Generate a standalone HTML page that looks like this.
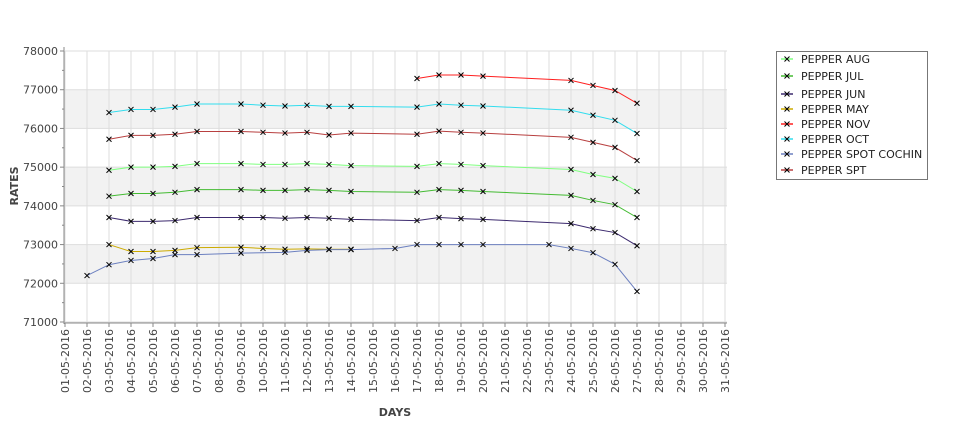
<!DOCTYPE html>
<html><head><meta charset="utf-8"><style>
body{margin:0;background:#fff;font-family:"Liberation Sans","DejaVu Sans",sans-serif}
svg text{font-family:"DejaVu Sans","Liberation Sans",sans-serif}
</style></head><body>
<svg id="chart" width="975" height="429" xmlns="http://www.w3.org/2000/svg"></svg>
<script>
const days = ["01","02","03","04","05","06","07","08","09","10","11","12","13","14","15","16","17","18","19","20","21","22","23","24","25","26","27","28","29","30","31"];
const yTicks = [71000,72000,73000,74000,75000,76000,77000,78000];
const seriesNames = ["PEPPER AUG","PEPPER JUL","PEPPER JUN","PEPPER MAY","PEPPER NOV","PEPPER OCT","PEPPER SPOT COCHIN","PEPPER SPT"];
const seriesColors = ["#80ff80","#44bb33","#3c2a6e","#ccaa00","#ff2020","#33ddee","#6c80c0","#b84040"];
const mainDays = [3,4,5,6,7,9,10,11,12,13,14,17,18,19,20,24,25,26,27];
const augVals = [74920,75000,75000,75020,75090,75090,75070,75070,75090,75070,75040,75020,75090,75070,75040,74940,74810,74710,74370];
const julVals = [74250,74320,74320,74350,74420,74420,74400,74400,74420,74400,74370,74350,74420,74400,74370,74270,74140,74030,73700];
const junVals = [73700,73600,73600,73620,73700,73700,73700,73680,73700,73680,73650,73620,73700,73670,73650,73540,73410,73310,72970];
const sptVals = [75720,75820,75820,75850,75920,75920,75900,75880,75900,75830,75880,75850,75930,75900,75880,75770,75640,75510,75170];
const octVals = [76410,76490,76490,76550,76630,76630,76600,76580,76600,76570,76570,76550,76630,76600,76580,76470,76340,76210,75870];
const mayDays = [3,4,5,6,7,9,10,11,12,13,14];
const mayVals = [73000,72820,72820,72850,72920,72930,72900,72880,72890,72880,72880];
const novDays = [17,18,19,20,24,25,26,27];
const novVals = [77290,77380,77380,77350,77240,77110,76980,76650];
const spotDays = [2,3,4,5,6,7,9,11,12,13,14,16,17,18,19,20,23,24,25,26,27];
const spotVals = [72200,72480,72590,72640,72740,72740,72780,72800,72850,72870,72870,72900,73000,73000,73000,73000,73000,72900,72790,72490,71790];

const svg=document.getElementById('chart');
const NS="http://www.w3.org/2000/svg";
const X0=65,X1=725,Y0=322,Y1=51,VMIN=71000,VMAX=78000;
function xs(d){return X0+(d-1)*(X1-X0)/30;}
function ys(v){return Y0-(v-VMIN)*(Y0-Y1)/(VMAX-VMIN);}
function el(t,a,p){const e=document.createElementNS(NS,t);for(const k in a)e.setAttribute(k,a[k]);(p||svg).appendChild(e);return e;}

for(let i=0;i<yTicks.length-1;i++){
  if(i%2===1){
    const r=el('rect',{x:X0,y:ys(yTicks[i+1]),width:X1-X0+2,height:ys(yTicks[i])-ys(yTicks[i+1]),fill:'#f2f2f2'});
    
    
  }
}
days.forEach((d,i)=>{
  const g=el('line',{x1:xs(i+1),x2:xs(i+1),y1:Y1,y2:Y0,stroke:'#dddddd','stroke-width':1});
  
  
});
yTicks.forEach(v=>{
  const g=el('line',{x1:X0,x2:X1+2,y1:ys(v),y2:ys(v),stroke:'#dddddd','stroke-width':1});
  
  
});
const ax=el('line',{x1:X0-1,x2:X0-1,y1:Y1-4,y2:Y0+2,stroke:'#888','stroke-width':1});


const axx=el('line',{x1:X0-1,x2:X1+2,y1:Y0+1,y2:Y0+1,stroke:'#888','stroke-width':1});


yTicks.forEach((v,i)=>{
  el('line',{x1:X0-5,x2:X0-1,y1:ys(v),y2:ys(v),stroke:'#888'});
  if(i<yTicks.length-1){const m=ys(v+500);el('line',{x1:X0-3,x2:X0-1,y1:m,y2:m,stroke:'#888'});}
  const t=el('text',{x:X0-7,y:ys(v)+4,'font-size':11,'text-anchor':'end',fill:'#444'});
  t.textContent=v;
  
  
});
days.forEach((d,i)=>{
  const x=xs(i+1);
  el('line',{x1:x,x2:x,y1:Y0+1,y2:Y0+5,stroke:'#888'});
  const t=el('text',{x:0,y:0,'font-size':11,'text-anchor':'end',fill:'#444',transform:`translate(${x+4},${Y0+7}) rotate(-90)`});
  t.textContent=d+"-05-2016";
  
  
});
const xt=el('text',{x:395,y:416,'font-size':11,'font-weight':'bold','text-anchor':'middle',fill:'#444'});
xt.textContent='DAYS';


const yt=el('text',{x:0,y:0,'font-size':11,'font-weight':'bold','text-anchor':'middle',fill:'#444',transform:'translate(18,186) rotate(-90)'});
yt.textContent='RATES';



const seriesData=[[mainDays,augVals],[mainDays,julVals],[mainDays,junVals],[mayDays,mayVals],[novDays,novVals],[mainDays,octVals],[spotDays,spotVals],[mainDays,sptVals]];
function marker(x,y,p){
  el('path',{d:`M${x-2.5},${y-2.5}L${x+2.5},${y+2.5}M${x-2.5},${y+2.5}L${x+2.5},${y-2.5}`,stroke:'#000','stroke-width':1},p);
}
seriesData.forEach(([ds,vs],si)=>{
  const g=el('g',{});
  
  
  const pts=ds.map((d,i)=>xs(d)+','+ys(vs[i])).join(' ');
  const pl=el('polyline',{points:pts,fill:'none',stroke:seriesColors[si],'stroke-width':1},g);
  
  
  ds.forEach((d,i)=>marker(xs(d),ys(vs[i]),g));
});
const lg=el('g',{});


el('rect',{x:776.5,y:51.5,width:151,height:128,fill:'#fff',stroke:'#777'},lg);
const ly=[59,76,94,109,124,139,154,170];
seriesNames.forEach((n,i)=>{
  const e=el('g',{},lg);
  
  
  el('line',{x1:781,x2:793,y1:ly[i],y2:ly[i],stroke:seriesColors[i],'stroke-width':1.5},e);
  marker(787,ly[i],e);
  const t=el('text',{x:801,y:ly[i]+4,'font-size':11,fill:'#222'},e);
  t.textContent=n;
});
</script>
</body></html>
